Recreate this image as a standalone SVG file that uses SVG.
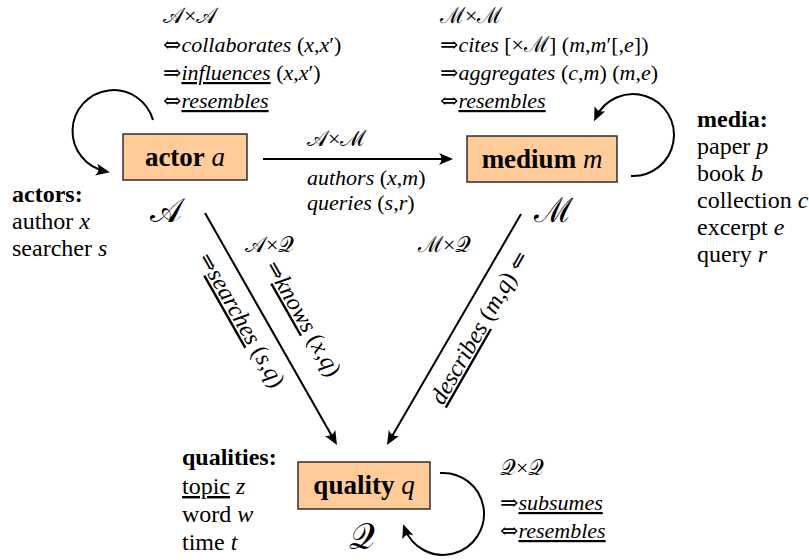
<svg xmlns="http://www.w3.org/2000/svg" width="809" height="560" viewBox="0 0 809 560">
<style>
text{font-family:'Liberation Serif',serif;font-size:22px;fill:#000}
.leg{font-size:24px}
.rot{font-size:24px}
.ar{font-family:'DejaVu Serif',serif;font-size:22px;font-style:normal;font-weight:normal}
.i{font-style:italic}
.b{font-weight:bold}
.u{text-decoration:underline}
.box{fill:#FFCC99;stroke:#222;stroke-width:1.4}
.lbl{font-size:27px}
.cal{font-size:34px}
.edge{fill:none;stroke:#000;stroke-width:2}
</style>
<defs>
<marker id="ah" viewBox="0 0 14 12" refX="10" refY="6" markerWidth="14" markerHeight="12" markerUnits="userSpaceOnUse" orient="auto">
<path d="M14,6 L0,0 Q5,6 0,12 Z" fill="#000"/>
</marker>
</defs>

<g id="connectors">
<path class="edge" d="M263,159 L449,159" marker-end="url(#ah)"/>
<path class="edge" d="M205,213 L335,441.5" marker-end="url(#ah)"/>
<path class="edge" d="M521,214 L389,441.5" marker-end="url(#ah)"/>
<path class="edge" d="M153,120 A41,41 0 1 0 105.9,171.4" marker-end="url(#ah)"/>
<path class="edge" d="M631,176 A41,41 0 1 0 595.8,117.7" marker-end="url(#ah)"/>
<path class="edge" d="M440,473 A41,41 0 1 1 404.5,528" marker-end="url(#ah)"/>
</g>

<g id="actor">
<rect class="box" x="123" y="134" width="124" height="46"/>
<text class="lbl" x="185" y="166" text-anchor="middle"><tspan class="b">actor</tspan> <tspan class="i">a</tspan></text>
<text class="cal" x="166" y="222" text-anchor="middle">𝒜</text>
</g>

<g id="medium">
<rect class="box" x="467" y="136" width="150" height="46"/>
<text class="lbl" x="542" y="168" text-anchor="middle"><tspan class="b">medium</tspan> <tspan class="i">m</tspan></text>
<text class="cal" x="553" y="222" text-anchor="middle">ℳ</text>
</g>

<g id="quality">
<rect class="box" x="298" y="462" width="132" height="47"/>
<text class="lbl" x="364" y="494" text-anchor="middle"><tspan class="b">quality</tspan> <tspan class="i">q</tspan></text>
<text class="cal" x="362" y="549" text-anchor="middle" style="font-size:36px">𝒬</text>
</g>

<g id="actor-relations">
<text x="163" y="23">𝒜×𝒜</text>
<text x="163" y="52"><tspan class="ar">⇔</tspan><tspan class="i">collaborates</tspan> (<tspan class="i">x</tspan>,<tspan class="i">x</tspan>′)</text>
<text x="163" y="80"><tspan class="ar">⇒</tspan><tspan class="i u">influences</tspan> (<tspan class="i">x</tspan>,<tspan class="i">x</tspan>′)</text>
<text x="163" y="108"><tspan class="ar">⇔</tspan><tspan class="i u">resembles</tspan></text>
</g>

<g id="medium-relations">
<text x="440" y="23">ℳ×ℳ</text>
<text x="440" y="52"><tspan class="ar">⇒</tspan><tspan class="i">cites</tspan> [×ℳ] (<tspan class="i">m</tspan>,<tspan class="i">m</tspan>′[,<tspan class="i">e</tspan>])</text>
<text x="440" y="80"><tspan class="ar">⇒</tspan><tspan class="i">aggregates</tspan> (<tspan class="i">c</tspan>,<tspan class="i">m</tspan>) (<tspan class="i">m</tspan>,<tspan class="i">e</tspan>)</text>
<text x="440" y="108"><tspan class="ar">⇔</tspan><tspan class="i u">resembles</tspan></text>
</g>

<g id="actor-medium-labels">
<text x="307" y="146">𝒜×ℳ</text>
<text x="307" y="185"><tspan class="i">authors</tspan> (<tspan class="i">x</tspan>,<tspan class="i">m</tspan>)</text>
<text x="307" y="210"><tspan class="i">queries</tspan> (<tspan class="i">s</tspan>,<tspan class="i">r</tspan>)</text>
</g>

<g id="actor-quality-labels">
<text x="245" y="252">𝒜×𝒬</text>
<text class="rot" transform="translate(198,258) rotate(60.4)"><tspan class="ar">⇒</tspan><tspan class="i u">searches</tspan> (<tspan class="i">s</tspan>,<tspan class="i">q</tspan>)</text>
<text class="rot" transform="translate(265,266) rotate(60.4)"><tspan class="ar">⇒</tspan><tspan class="i u">knows</tspan> (<tspan class="i">x</tspan>,<tspan class="i">q</tspan>)</text>
</g>

<g id="medium-quality-labels">
<text x="418" y="252">ℳ×𝒬</text>
<text class="rot" transform="translate(443,406) rotate(-60.1)"><tspan class="i u">describes</tspan> (<tspan class="i">m</tspan>,<tspan class="i">q</tspan>) <tspan class="ar">⇐</tspan></text>
</g>

<g id="actors-legend">
<text class="b leg" x="12" y="202">actors:</text>
<text class="leg" x="12" y="229">author <tspan class="i">x</tspan></text>
<text class="leg" x="12" y="256">searcher <tspan class="i">s</tspan></text>
</g>

<g id="media-legend">
<text class="b leg" x="697" y="127">media:</text>
<text class="leg" x="697" y="154">paper <tspan class="i">p</tspan></text>
<text class="leg" x="697" y="181">book <tspan class="i">b</tspan></text>
<text class="leg" x="697" y="208">collection <tspan class="i">c</tspan></text>
<text class="leg" x="697" y="235">excerpt <tspan class="i">e</tspan></text>
<text class="leg" x="697" y="262">query <tspan class="i">r</tspan></text>
</g>

<g id="qualities-legend">
<text class="b leg" x="182" y="465">qualities:</text>
<text class="leg" x="182" y="494"><tspan class="u">topic</tspan> <tspan class="i">z</tspan></text>
<text class="leg" x="182" y="522">word <tspan class="i">w</tspan></text>
<text class="leg" x="182" y="550">time <tspan class="i">t</tspan></text>
</g>

<g id="quality-relations">
<text x="500" y="475">𝒬×𝒬</text>
<text x="500" y="510"><tspan class="ar">⇒</tspan><tspan class="i u">subsumes</tspan></text>
<text x="500" y="538"><tspan class="ar">⇔</tspan><tspan class="i u">resembles</tspan></text>
</g>
</svg>
